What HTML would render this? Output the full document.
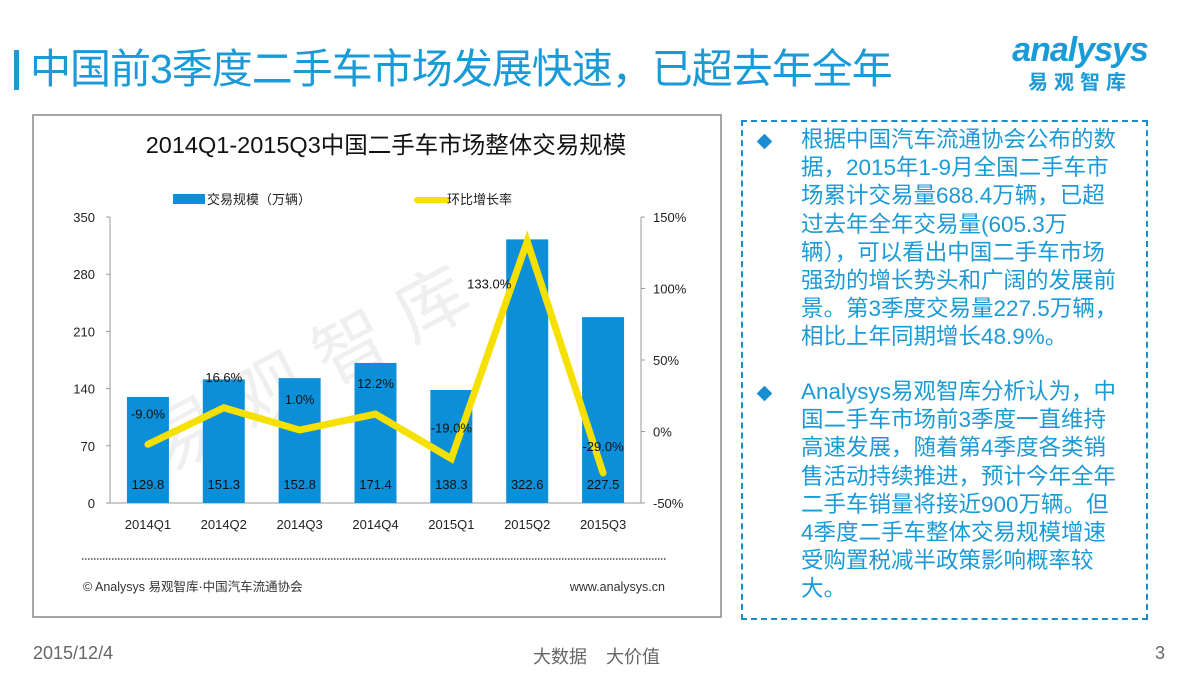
<!DOCTYPE html>
<html><head><meta charset="utf-8"><style>
body{margin:0;width:1200px;height:675px;background:#fff;overflow:hidden;position:relative;font-family:"Liberation Sans","Noto Sans CJK SC",sans-serif}
.abs{position:absolute}
#title{left:30px;top:44px;font-size:41px;color:#1a9ad6;white-space:nowrap;letter-spacing:-1px;line-height:50px}
#bar{left:14px;top:50px;width:5px;height:40px;background:#1a9ad6}
#textbox{left:741px;top:120px;width:407px;height:500px;border:2px dashed #1a8dc8;box-sizing:border-box}
.para{position:absolute;left:58px;font-size:22.5px;line-height:28.2px;color:#1a9ad6;white-space:nowrap}
.dia{position:absolute;left:16px;width:11px;height:11px;background:#1a8dd0;transform:rotate(45deg)}
</style></head><body>
<div id="bar" class="abs"></div>
<div id="title" class="abs">中国前3季度二手车市场发展快速，已超去年全年</div>
<div class="abs" style="left:995px;top:30px;width:170px;text-align:center;color:#1a9ad6">
 <div style="font-size:34px;font-style:italic;font-weight:bold;letter-spacing:-1px;line-height:40px">analysys</div>
 <div style="font-size:20px;font-weight:bold;letter-spacing:6px;line-height:26px">易观智库</div>
</div>
<svg class="abs" style="left:0;top:0" width="1200" height="675">
 <rect x="33" y="115" width="688" height="502" fill="#fff" stroke="#888" stroke-width="1.5"/>
 <text x="386" y="153" text-anchor="middle" font-size="23.5" fill="#111">2014Q1-2015Q3中国二手车市场整体交易规模</text>
 <rect x="173" y="194" width="32" height="10" fill="#0a8fd8"/>
 <text x="207" y="204" font-size="13" fill="#222">交易规模（万辆）</text>
 <line x1="417" y1="200" x2="447" y2="200" stroke="#f5e000" stroke-width="6" stroke-linecap="round"/>
 <text x="447" y="204" font-size="13" fill="#222">环比增长率</text>
 <text x="120" y="380" font-size="72" fill="#000" opacity="0.06" transform="rotate(-28 330 330)">易 观 智 库</text>
 <g id="plot"></g>
 <line x1="82" y1="559" x2="666" y2="559" stroke="#777" stroke-width="2" stroke-dasharray="1.5 1.5"/>
 <text x="83" y="591" font-size="12.5" fill="#333">© Analysys 易观智库·中国汽车流通协会</text>
 <text x="665" y="591" text-anchor="end" font-size="12.5" fill="#333">www.analysys.cn</text>
</svg>
<div id="textbox" class="abs">
 <div class="dia" style="top:14px"></div>
 <div class="para" style="top:4px">根据中国汽车流通协会公布的数<br>据，2015年1-9月全国二手车市<br>场累计交易量688.4万辆，已超<br>过去年全年交易量(605.3万<br>辆），可以看出中国二手车市场<br>强劲的增长势头和广阔的发展前<br>景。第3季度交易量227.5万辆，<br>相比上年同期增长48.9%。</div>
 <div class="dia" style="top:266px"></div>
 <div class="para" style="top:256px">Analysys易观智库分析认为，中<br>国二手车市场前3季度一直维持<br>高速发展，随着第4季度各类销<br>售活动持续推进，预计今年全年<br>二手车销量将接近900万辆。但<br>4季度二手车整体交易规模增速<br>受购置税减半政策影响概率较<br>大。</div>
</div>
<div class="abs" style="left:33px;top:643px;font-size:18px;color:#666">2015/12/4</div>
<div class="abs" style="left:533px;top:643px;font-size:18px;color:#666;word-spacing:14px">大数据 大价值</div>
<div class="abs" style="left:1155px;top:643px;font-size:18px;color:#666">3</div>
<script>
const categories=["2014Q1","2014Q2","2014Q3","2014Q4","2015Q1","2015Q2","2015Q3"];
const volumes=[129.8,151.3,152.8,171.4,138.3,322.6,227.5];
const growth=[-9.0,16.6,1.0,12.2,-19.0,133.0,-29.0];
const leftTicks=[0,70,140,210,280,350];
const rightTicks=[-50,0,50,100,150];
const NS="http://www.w3.org/2000/svg";
const X0=110,X1=641,Y0=503,Y1=217;
const step=(X1-X0)/categories.length;
const xc=i=>X0+step*(i+0.5);
const yL=v=>Y0-(v/350)*(Y0-Y1);
const yR=v=>Y0-((v+50)/200)*(Y0-Y1);
const g=document.getElementById('plot');
function mk(tag,at){const e=document.createElementNS(NS,tag);for(const k in at)e.setAttribute(k,at[k]);g.appendChild(e);return e;}
let e;
e=mk('line',{x1:X0,y1:Y1,x2:X0,y2:Y0,stroke:'#999'});


e=mk('line',{x1:X1,y1:Y1,x2:X1,y2:Y0,stroke:'#999'});


e=mk('line',{x1:X0,y1:Y0,x2:X1,y2:Y0,stroke:'#999'});


leftTicks.forEach(t=>{
 e=mk('text',{x:X0-15,y:yL(t)+5,'text-anchor':'end','font-size':13,fill:'#222'});e.textContent=t;
 
 
 e=mk('line',{x1:X0-4,y1:yL(t),x2:X0,y2:yL(t),stroke:'#999'});
 
 
});
rightTicks.forEach(t=>{
 e=mk('text',{x:X1+12,y:yR(t)+5,'font-size':13,fill:'#222'});e.textContent=t+'%';
 
 
 e=mk('line',{x1:X1,y1:yR(t),x2:X1+4,y2:yR(t),stroke:'#999'});
 
 
});
categories.forEach((c,i)=>{
 e=mk('rect',{x:xc(i)-21,y:yL(volumes[i]),width:42,height:Y0-yL(volumes[i]),fill:'#0a8fd8'});
 
 
 e=mk('text',{x:xc(i),y:489,'text-anchor':'middle','font-size':13,fill:'#111'});e.textContent=volumes[i].toFixed(1);
 
 
 e=mk('text',{x:xc(i),y:529,'text-anchor':'middle','font-size':13,fill:'#222'});e.textContent=c;
 
 
});
e=mk('polyline',{points:growth.map((v,i)=>xc(i)+','+yR(v)).join(' '),fill:'none',stroke:'#f5e000','stroke-width':7,'stroke-linejoin':'miter','stroke-linecap':'round'});


growth.forEach((v,i)=>{
 let ly=yR(v)-26, lx=xc(i);
 if(i===5){ly=yR(v)+47;lx=xc(i)-38;}
 if(i===6){ly=yR(v)-22;}
 e=mk('text',{x:lx,y:ly,'text-anchor':'middle','font-size':13,fill:'#111'});e.textContent=v.toFixed(1)+'%';
 
 
});
</script>
</body></html>
